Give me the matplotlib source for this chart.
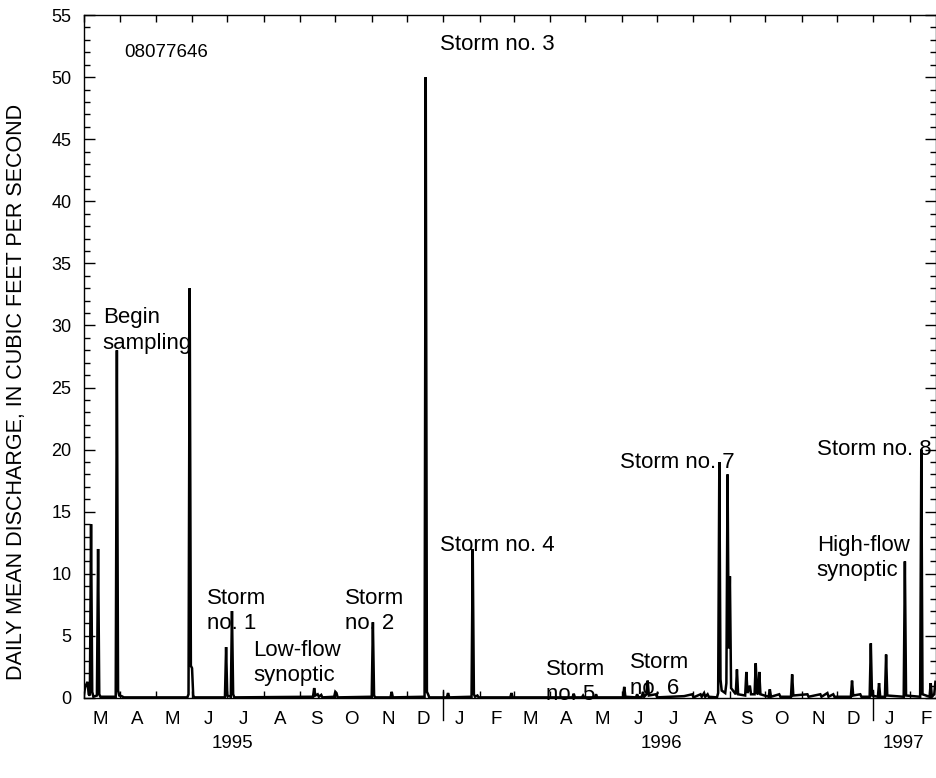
import matplotlib
matplotlib.use("Agg")
import matplotlib.pyplot as plt
import matplotlib.dates as mdates
import matplotlib.transforms as mtransforms
from matplotlib.ticker import MultipleLocator, FuncFormatter, NullFormatter
from datetime import datetime

# ---------------- data (daily mean discharge, ft3/s) ----------------
dates = [
    "1995-03-01", "1995-03-02", "1995-03-03", "1995-03-04", "1995-03-05", "1995-03-06",
    "1995-03-07", "1995-03-08", "1995-03-09", "1995-03-12", "1995-03-13", "1995-03-14",
    "1995-03-15", "1995-03-28", "1995-03-29", "1995-03-30", "1995-03-31", "1995-04-02",
    "1995-04-04", "1995-05-28", "1995-05-29", "1995-05-30", "1995-05-31", "1995-06-01",
    "1995-06-02", "1995-06-03", "1995-06-29", "1995-06-30", "1995-07-01", "1995-07-04",
    "1995-07-05", "1995-07-06", "1995-07-07", "1995-09-12", "1995-09-13", "1995-09-14",
    "1995-09-16", "1995-09-17", "1995-09-19", "1995-09-20", "1995-09-30", "1995-10-01",
    "1995-10-02", "1995-10-03", "1995-11-01", "1995-11-02", "1995-11-03", "1995-11-04",
    "1995-11-17", "1995-11-18", "1995-11-19", "1995-12-16", "1995-12-17", "1995-12-18",
    "1995-12-19", "1995-12-20", "1996-01-04", "1996-01-05", "1996-01-06", "1996-01-25",
    "1996-01-26", "1996-01-27", "1996-01-28", "1996-01-30", "1996-01-31", "1996-02-27",
    "1996-02-28", "1996-02-29", "1996-04-20", "1996-04-21", "1996-04-22", "1996-04-28",
    "1996-04-29", "1996-04-30", "1996-05-09", "1996-05-10", "1996-05-11", "1996-06-02",
    "1996-06-03", "1996-06-04", "1996-06-13", "1996-06-14", "1996-06-15", "1996-06-18",
    "1996-06-19", "1996-06-20", "1996-06-22", "1996-06-23", "1996-06-24", "1996-06-30",
    "1996-07-01", "1996-07-24", "1996-07-31", "1996-08-01", "1996-08-07", "1996-08-08",
    "1996-08-10", "1996-08-11", "1996-08-13", "1996-08-14", "1996-08-21", "1996-08-22",
    "1996-08-23", "1996-08-24", "1996-08-25", "1996-08-28", "1996-08-29", "1996-08-30",
    "1996-08-31", "1996-09-01", "1996-09-02", "1996-09-06", "1996-09-07", "1996-09-08",
    "1996-09-14", "1996-09-15", "1996-09-16", "1996-09-18", "1996-09-19", "1996-09-22",
    "1996-09-23", "1996-09-24", "1996-09-25", "1996-09-26", "1996-09-27", "1996-10-04",
    "1996-10-05", "1996-10-06", "1996-10-13", "1996-10-14", "1996-10-23", "1996-10-24",
    "1996-10-25", "1996-11-06", "1996-11-07", "1996-11-17", "1996-11-18", "1996-11-23",
    "1996-11-24", "1996-11-28", "1996-11-29", "1996-12-13", "1996-12-14", "1996-12-15",
    "1996-12-21", "1996-12-22", "1996-12-29", "1996-12-30", "1996-12-31", "1997-01-05",
    "1997-01-06", "1997-01-07", "1997-01-11", "1997-01-12", "1997-01-13", "1997-01-27",
    "1997-01-28", "1997-01-29", "1997-02-10", "1997-02-11", "1997-02-12", "1997-02-18",
    "1997-02-19", "1997-02-20", "1997-02-22", "1997-02-23",
]
discharge = [
    0.3, 0.9, 1.1, 1.3, 0.3, 0.2,
    14.0, 0.5, 0.1, 0.2, 12.0, 0.3,
    0.1, 0.1, 28.0, 0.6, 0.2, 0.15,
    0.05, 0.05, 0.3, 33.0, 2.6, 2.4,
    0.2, 0.05, 0.05, 4.1, 0.2, 0.1,
    7.0, 0.3, 0.05, 0.1, 0.8, 0.2,
    0.3, 0.1, 0.25, 0.05, 0.1, 0.5,
    0.4, 0.05, 0.1, 6.1, 0.2, 0.05,
    0.05, 0.5, 0.05, 0.1, 50.0, 0.5,
    0.3, 0.05, 0.05, 0.4, 0.05, 0.1,
    12.0, 0.3, 0.1, 0.2, 0.05, 0.05,
    0.4, 0.05, 0.05, 0.35, 0.05, 0.05,
    0.2, 0.05, 0.05, 0.3, 0.05, 0.05,
    0.9, 0.1, 0.05, 0.3, 0.05, 0.1,
    0.5, 0.1, 0.3, 1.4, 0.2, 0.3,
    0.05, 0.15, 0.3, 0.05, 0.3, 0.1,
    0.4, 0.1, 0.3, 0.1, 0.05, 0.4,
    19.0, 1.5, 0.6, 0.4, 1.2, 18.0,
    4.0, 9.8, 0.8, 0.3, 2.3, 0.3,
    0.2, 2.1, 0.4, 1.0, 0.3, 0.3,
    2.8, 0.4, 0.3, 2.1, 0.3, 0.1,
    0.7, 0.1, 0.3, 0.1, 0.1, 1.9,
    0.2, 0.3, 0.1, 0.3, 0.1, 0.4,
    0.1, 0.3, 0.1, 0.1, 1.4, 0.2,
    0.3, 0.1, 0.1, 4.4, 0.2, 0.1,
    1.2, 0.1, 0.1, 3.5, 0.2, 0.1,
    11.0, 0.2, 0.1, 20.0, 0.3, 0.1,
    1.2, 0.1, 0.3, 1.3,
]
month_letters = ["J", "F", "M", "A", "M", "J", "J", "A", "S", "O", "N", "D"]
year_labels = ["1995", "1996", "1997"]

x = [datetime.strptime(d, "%Y-%m-%d") for d in dates]

# ---------------- figure ----------------
plt.rcParams["font.family"] = ["Liberation Sans", "DejaVu Sans"]
fig = plt.figure(figsize=(9.37, 7.78), dpi=100)
ax = fig.add_axes([84 / 937, 80 / 778, 852 / 937, 683 / 778])

ax.plot(x, discharge, color="black", linewidth=1.8, solid_joinstyle="miter")

ax.set_xlim(datetime(1995, 3, 1), datetime(1997, 2, 23, 12))
ax.set_ylim(0, 55)

# y axis
ax.yaxis.set_major_locator(MultipleLocator(5))
ax.yaxis.set_minor_locator(MultipleLocator(1))
ax.tick_params(axis="y", which="major", direction="in", length=8, width=1,
               left=True, right=True, labelsize=13, pad=9)
ax.tick_params(axis="y", which="minor", direction="in", length=4, width=1,
               left=True, right=True)

# x axis: ticks at month boundaries, letters at mid-month
ax.xaxis.set_major_locator(mdates.MonthLocator())
ax.xaxis.set_major_formatter(NullFormatter())
ax.xaxis.set_minor_locator(mdates.MonthLocator(bymonthday=15))
ax.xaxis.set_minor_formatter(FuncFormatter(
    lambda v, pos: month_letters[mdates.num2date(v).month - 1]))
ax.tick_params(axis="x", which="major", direction="in", length=5, width=1,
               bottom=True, top=True)
ax.tick_params(axis="x", which="minor", length=0, labelsize=13.5, pad=9)

for s in ax.spines.values():
    s.set_linewidth(1.0)

ax.set_ylabel("DAILY MEAN DISCHARGE, IN CUBIC FEET PER SECOND", fontsize=15.5)
ax.yaxis.set_label_coords(-0.067, 0.448)

trans = mtransforms.blended_transform_factory(ax.transData, ax.transAxes)
# year labels
for yr, d in zip(year_labels, [datetime(1995, 7, 5), datetime(1996, 7, 5), datetime(1997, 1, 27)]):
    ax.text(d, -0.066, yr, transform=trans, ha="center", va="center", fontsize=13.5)
# year separators
for d in [datetime(1996, 1, 1), datetime(1997, 1, 1)]:
    ax.plot([d, d], [0.012, -0.032], transform=trans, color="black", lw=1, clip_on=False)

# annotations
fs = 16
ls = 1.27
ax.text(datetime(1995, 4, 4), 52.0, "08077646", fontsize=13.5, va="center", ha="left")
ax.text(datetime(1995, 3, 17), 29.6, "Begin\nsampling", fontsize=fs, va="center", ha="left", linespacing=ls)
ax.text(datetime(1995, 6, 14), 7.0, "Storm\nno. 1", fontsize=fs, va="center", ha="left", linespacing=ls)
ax.text(datetime(1995, 7, 23), 2.8, "Low-flow\nsynoptic", fontsize=fs, va="center", ha="left", linespacing=ls)
ax.text(datetime(1995, 10, 9), 7.0, "Storm\nno. 2", fontsize=fs, va="center", ha="left", linespacing=ls)
ax.text(datetime(1995, 12, 29), 52.6, "Storm no. 3", fontsize=fs, va="center", ha="left")
ax.text(datetime(1995, 12, 29), 12.3, "Storm no. 4", fontsize=fs, va="center", ha="left")
ax.text(datetime(1996, 3, 28), 1.3, "Storm\nno. 5", fontsize=fs, va="center", ha="left", linespacing=ls)
ax.text(datetime(1996, 6, 8), 1.8, "Storm\nno. 6", fontsize=fs, va="center", ha="left", linespacing=ls)
ax.text(datetime(1996, 5, 30), 19.0, "Storm no. 7", fontsize=fs, va="center", ha="left")
ax.text(datetime(1996, 11, 14), 20.0, "Storm no. 8", fontsize=fs, va="center", ha="left")
ax.text(datetime(1996, 11, 14), 11.3, "High-flow\nsynoptic", fontsize=fs, va="center", ha="left", linespacing=ls)

fig.savefig("out.png", dpi=100)
